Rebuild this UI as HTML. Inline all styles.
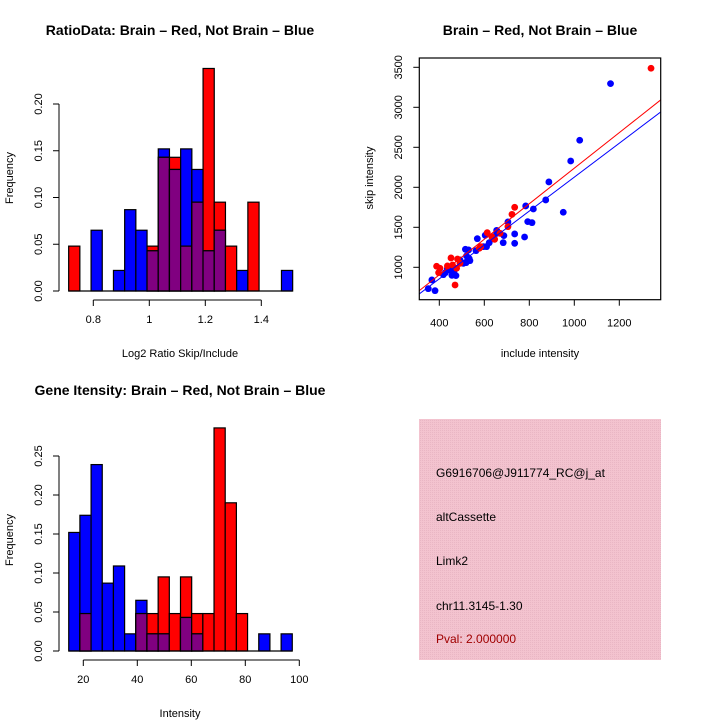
<!DOCTYPE html>
<html><head><meta charset="utf-8"><style>
html,body{margin:0;padding:0;background:#fff}
svg{display:block;font-family:"Liberation Sans",Arial,sans-serif}
</style></head><body>
<svg id="c" width="720" height="720" xmlns="http://www.w3.org/2000/svg">
<defs>
<pattern id="pk" width="2" height="2" patternUnits="userSpaceOnUse"><rect width="2" height="2" fill="#f3c3cf"/><rect width="1" height="1" fill="#e9b6c4"/></pattern>
<clipPath id="scc"><rect x="419.3" y="58" width="241.4" height="241.7"/></clipPath>
</defs>
<g>
<rect x="419" y="419" width="242" height="241" fill="url(#pk)"/>
<text x="436" y="477" font-size="12">G6916706@J911774_RC@j_at</text>
<text x="436" y="521" font-size="12">altCassette</text>
<text x="436" y="565" font-size="12">Limk2</text>
<text x="436" y="610" font-size="12">chr11.3145-1.30</text>
<text x="436" y="643" font-size="12" fill="#a00000">Pval: 2.000000</text>
</g>
</svg>
<script>
// ---- Top histogram data (Log2 ratio) ----
const ratioBinStart = 0.712;
const ratioBinWidth = 0.04;
const ratioRed  = [0.048,0,0,0,0,0,0,0.048,0.143,0.143,0.048,0.095,0.238,0.095,0.048,0,0.095,0,0,0];
const ratioBlue = [0,0,0.065,0,0.022,0.087,0.065,0.043,0.152,0.130,0.152,0.130,0.043,0.065,0,0.022,0,0,0,0.022];
const ratioXTicks = [0.8,1.0,1.2,1.4];
const ratioYTicks = [0,0.05,0.10,0.15,0.20];
// ---- Bottom histogram data (Intensity) ----
const intBinStart = 14.6;
const intBinWidth = 4.14;
const intRed  = [0,0.048,0,0,0,0,0.048,0.048,0.095,0.048,0.095,0.048,0.048,0.286,0.190,0.048,0,0,0,0];
const intBlue = [0.152,0.174,0.239,0.087,0.109,0.022,0.065,0.022,0.022,0,0.043,0.022,0,0,0,0,0,0.022,0,0.022];
const intXTicks = [20,40,60,80,100];
const intYTicks = [0,0.05,0.10,0.15,0.20,0.25];
// ---- Scatter data ----
const redX = [1341,735,723,705,613,646,633,578,584,452,481,388,403,397,436,459,477,470,492,670];
const redY = [3488,1750,1662,1508,1433,1350,1383,1238,1258,1117,1104,1013,988,933,1017,1029,988,779,1050,1425];
const blueX = [1161,1024,984,887,873,951,784,818,793,812,779,735,735,705,684,687,655,655,604,622,610,596,569,563,516,530,533,519,507,492,465,427,436,447,456,474,418,367,351,381,521,536];
const blueY = [3296,2588,2329,2067,1842,1688,1767,1729,1571,1558,1379,1417,1300,1567,1308,1396,1462,1425,1400,1308,1258,1258,1358,1208,1225,1217,1108,1058,1050,1092,942,933,983,967,900,896,908,842,733,708,1142,1083];
const redFit = [17, 2.222];   // intercept, slope
const blueFit = [7.6, 2.12];
const scXTicks = [400,600,800,1000,1200];
const scYTicks = [1000,1500,2000,2500,3000,3500];

const svg = document.getElementById('c');
const NS = 'http://www.w3.org/2000/svg';
function mk(tag, attrs, parent){
  const e = document.createElementNS(NS, tag);
  for (const k in attrs) e.setAttribute(k, attrs[k]);
  (parent||svg).appendChild(e);
  return e;
}
function txt(s, x, y, size, parent, rot, anchor, weight){
  const t = mk('text', {x:x, y:y, 'font-size':size, 'text-anchor':anchor||'middle'}, parent);
  if (weight) t.setAttribute('font-weight', weight);
  if (rot) t.setAttribute('transform', 'rotate(-90 '+x+' '+y+')');
  t.textContent = s;
  return t;
}

function histogram(cfg){
  const g = mk('g', {});
  
  
  const xs = v => cfg.x0 + (v - cfg.xv0) * cfg.xk;
  const ys = v => cfg.y0 - v * cfg.yk;
  const n = cfg.red.length;
  for (let i = 0; i < n; i++){
    const l = xs(cfg.start + i*cfg.width), r = xs(cfg.start + (i+1)*cfg.width);
    const rv = cfg.red[i], bv = cfg.blue[i];
    const order = rv >= bv ? [['#ff0000',rv,'red'],['#0000ff',bv,'blue']] : [['#0000ff',bv,'blue'],['#ff0000',rv,'red']];
    for (const [col,v,nm] of order){
      const b = mk('rect', {x:l, y:ys(v), width:r-l, height:cfg.y0-ys(v), fill:col, stroke:'#000', 'stroke-width':1.2}, g);
      
      
    }
    const m = Math.min(rv, bv);
    if (m > 0){
      const p = mk('rect', {x:l, y:ys(m), width:r-l, height:cfg.y0-ys(m), fill:'#800080', stroke:'#000', 'stroke-width':1.2}, g);
      
      
    }
  }
  mk('line', {x1:xs(cfg.start), x2:xs(cfg.start+n*cfg.width), y1:cfg.y0, y2:cfg.y0, stroke:'#000', 'stroke-width':1.2}, g);
  const xa = mk('g', {}, g);
  
  
  const ay = cfg.axisY;
  mk('line', {x1:xs(cfg.xticks[0]), x2:xs(cfg.xticks[cfg.xticks.length-1]), y1:ay, y2:ay, stroke:'#000', 'stroke-width':1}, xa);
  cfg.xticks.forEach(t => {
    mk('line', {x1:xs(t), x2:xs(t), y1:ay, y2:ay+6, stroke:'#000'}, xa);
    txt(String(t), xs(t), ay+23, 11, xa);
  });
  const ya = mk('g', {}, g);
  
  
  const ax = 59;
  mk('line', {x1:ax, x2:ax, y1:ys(cfg.yticks[0]), y2:ys(cfg.yticks[cfg.yticks.length-1]), stroke:'#000'}, ya);
  cfg.yticks.forEach(t => {
    mk('line', {x1:ax-6, x2:ax, y1:ys(t), y2:ys(t), stroke:'#000'}, ya);
    txt(t.toFixed(2), 42, ys(t), 11, ya, true);
  });
  const yt = txt('Frequency', 13, cfg.ymid, 11, g, true);
  
  
  const xt = txt(cfg.xlabel, 180, cfg.xlabY, 11, g);
  
  
  const tt = txt(cfg.title, 180, cfg.titleY, 14, g, false, 'middle', 'bold');
  
  
}

histogram({name:'ratio-histogram', red:ratioRed, blue:ratioBlue, start:ratioBinStart, width:ratioBinWidth,
  x0:93.3, xv0:0.8, xk:280, y0:291, yk:935, axisY:300, xticks:ratioXTicks, yticks:ratioYTicks,
  ymid:178, xlabel:'Log2 Ratio Skip/Include', xlabY:357, title:'RatioData: Brain \u2013 Red, Not Brain \u2013 Blue', titleY:35});
histogram({name:'intensity-histogram', red:intRed, blue:intBlue, start:intBinStart, width:intBinWidth,
  x0:83.3, xv0:20, xk:2.7, y0:651, yk:780, axisY:660, xticks:intXTicks, yticks:intYTicks,
  ymid:540, xlabel:'Intensity', xlabY:717, title:'Gene Itensity: Brain \u2013 Red, Not Brain \u2013 Blue', titleY:395});

(function(){
  const g = mk('g', {});
  
  
  const xs = v => 439.3 + (v-400)*0.225;
  const ys = v => 267.3 - (v-1000)*0.08;
  const L=419.3, R=660.7, T=58, B=299.7;
  const pts = mk('g', {'clip-path':'url(#scc)'}, g);
  blueX.forEach((x,i)=>{
    const c = mk('circle', {cx:xs(x), cy:ys(blueY[i]), r:3.4, fill:'#0000ff'}, pts);
    
    
  });
  redX.forEach((x,i)=>{
    const c = mk('circle', {cx:xs(x), cy:ys(redY[i]), r:3.4, fill:'#ff0000'}, pts);
    
    
  });
  [[redFit,'#ff0000','fit-line-red'],[blueFit,'#0000ff','fit-line-blue']].forEach(([f,col,nm])=>{
    const a=f[0], b=f[1];
    const x1 = 300, x2 = 1400;
    const l = mk('line', {x1:xs(x1), y1:ys(a+b*x1), x2:xs(x2), y2:ys(a+b*x2), stroke:col, 'stroke-width':1}, pts);
    
    
  });
  mk('rect', {x:L, y:T, width:R-L, height:B-T, fill:'none', stroke:'#000', 'stroke-width':1.2}, g);
  const xa = mk('g', {}, g);
  
  
  scXTicks.forEach(t=>{
    mk('line', {x1:xs(t), x2:xs(t), y1:B, y2:B+6, stroke:'#000'}, xa);
    txt(String(t), xs(t), B+27, 11, xa);
  });
  const ya = mk('g', {}, g);
  
  
  scYTicks.forEach(t=>{
    mk('line', {x1:L-6, x2:L, y1:ys(t), y2:ys(t), stroke:'#000'}, ya);
    txt(String(t), 402, ys(t), 11, ya, true);
  });
  const xt = txt('include intensity', 540, 357, 11, g);
  
  
  const yt = txt('skip intensity', 373, 178, 11, g, true);
  
  
  const tt = txt('Brain \u2013 Red, Not Brain \u2013 Blue', 540, 35, 14, g, false, 'middle', 'bold');
  
  
})();
</script>
</body></html>
